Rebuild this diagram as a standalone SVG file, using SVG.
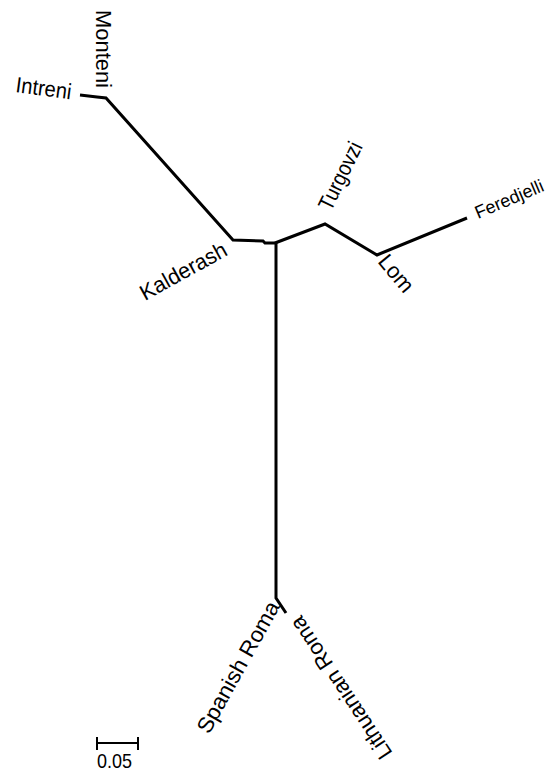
<svg xmlns="http://www.w3.org/2000/svg" width="556" height="772" viewBox="0 0 556 772">
  <style>
    .branch { fill: none; stroke: #000; stroke-width: 3; stroke-linejoin: miter; stroke-linecap: butt; }
    .scale { fill: none; stroke: #000; stroke-width: 2; }
    .lbl { font-family: "Liberation Sans", Arial, sans-serif; font-size: 22px; fill: #000; }
  </style>
  <rect x="0" y="0" width="556" height="772" fill="#fff"/>

  <!-- unrooted tree branches -->
  <g id="connectors">
    <polyline class="branch" points="80,95 97,97 106,98 233,240 263,241 265,243 275,243"/>
    <polyline class="branch" points="275,243 325,224 377,255 467,218"/>
    <polyline class="branch" points="276,242 276,598 286,613"/>
  </g>

  <!-- taxon labels -->
  <g id="monteni"><text class="lbl" transform="translate(96,10) rotate(90)" textLength="78" lengthAdjust="spacingAndGlyphs">Monteni</text></g>
  <g id="intreni"><text class="lbl" transform="translate(15,92) rotate(7.5)" textLength="56" lengthAdjust="spacingAndGlyphs">Intreni</text></g>
  <g id="kalderash"><text class="lbl" transform="translate(145,301) rotate(-29)" textLength="96" lengthAdjust="spacingAndGlyphs">Kalderash</text></g>
  <g id="turgovzi"><text class="lbl" transform="translate(331,212) rotate(-64)" textLength="73" lengthAdjust="spacingAndGlyphs">Turgovzi</text></g>
  <g id="lom"><text class="lbl" transform="translate(377,262) rotate(50)" textLength="42" lengthAdjust="spacingAndGlyphs">Lom</text></g>
  <g id="feredjelli"><text class="lbl" transform="translate(478,219) rotate(-23)" style="font-size:18px">Feredjelli</text></g>
  <g id="spanish-roma"><text class="lbl" transform="translate(209,735) rotate(-61)" textLength="147" lengthAdjust="spacingAndGlyphs">Spanish Roma</text></g>
  <g id="lithuanian-roma"><text class="lbl" transform="translate(393,753) rotate(236.5)" textLength="166" lengthAdjust="spacingAndGlyphs">Lithuanian Roma</text></g>

  <!-- scale bar -->
  <g id="scale-bar">
    <path class="scale" d="M96,743 H139 M97,737 V750 M138,737 V750"/>
    <text class="lbl" x="97" y="768" textLength="35" lengthAdjust="spacingAndGlyphs" style="font-size:21px">0.05</text>
  </g>
</svg>
